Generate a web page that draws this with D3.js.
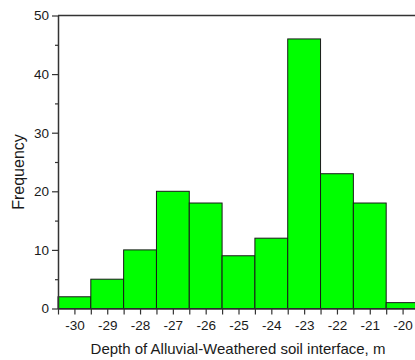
<!DOCTYPE html>
<html>
<head>
<meta charset="utf-8">
<script src="https://cdn.jsdelivr.net/npm/d3@7"></script>
<style>
  html, body { margin: 0; padding: 0; background: #fff; overflow: hidden; }
  svg { display: block; font-family: "Liberation Sans", Arial, sans-serif; }
</style>
</head>
<body>
<div id="chart"></div>
<script>
const binCenters = [-30, -29, -28, -27, -26, -25, -24, -23, -22, -21, -20];
const frequencies = [2, 5, 10, 20, 18, 9, 12, 46, 23, 18, 1];
const yTicks = [0, 10, 20, 30, 40, 50];
const yMinorTicks = [5, 15, 25, 35, 45];
const xTicks = [-30, -29, -28, -27, -26, -25, -24, -23, -22, -21, -20];
const xMinorTicks = [-30.5, -29.5, -28.5, -27.5, -26.5, -25.5, -24.5, -23.5, -22.5, -21.5, -20.5, -19.5];

const width = 415;
const height = 360;
const binWidth = 1;

const x = d3.scaleLinear()
  .domain([-30.5, -19.5])
  .range([58, 419]);

const y = d3.scaleLinear()
  .domain([0, 50])
  .range([308.5, 15.5]);

const svg = d3.select('#chart').append('svg')
  .attr('width', width)
  .attr('height', height);

// bars
svg.append('g')
  .selectAll('rect')
  .data(binCenters.map((c, i) => ({ c, f: frequencies[i] })))
  .join('rect')
    .attr('x', d => x(d.c - binWidth / 2))
    .attr('y', d => y(d.f))
    .attr('width', d => x(d.c + binWidth / 2) - x(d.c - binWidth / 2))
    .attr('height', d => y(0) - y(d.f))
    .attr('fill', '#00ff00')
    .attr('stroke', '#1a1a1a')
    .attr('stroke-width', 1);

// top frame line
svg.append('line')
  .attr('x1', x(-30.5)).attr('x2', x(-19.5))
  .attr('y1', y(50)).attr('y2', y(50))
  .attr('stroke', '#333').attr('stroke-width', 1.5);

// plain hyphen for negatives, like the original
const fmt = d => String(d);

// y axis
svg.append('g')
  .attr('transform', `translate(${x(-30.5)},0)`)
  .call(d3.axisLeft(y).tickValues(yTicks).tickFormat(fmt).tickSize(6).tickPadding(3).tickSizeOuter(0));
svg.append('g')
  .attr('transform', `translate(${x(-30.5)},0)`)
  .call(d3.axisLeft(y).tickValues(yMinorTicks).tickSize(3).tickFormat('').tickSizeOuter(0))
  .call(g => g.select('.domain').remove());

// x axis
svg.append('g')
  .attr('transform', `translate(0,${y(0)})`)
  .call(d3.axisBottom(x).tickValues(xTicks).tickFormat(fmt).tickSize(6).tickPadding(6).tickSizeOuter(0));
svg.append('g')
  .attr('transform', `translate(0,${y(0)})`)
  .call(d3.axisBottom(x).tickValues(xMinorTicks).tickSize(6).tickFormat('').tickSizeOuter(0))
  .call(g => g.select('.domain').remove());

svg.selectAll('.domain').attr('stroke', '#333').attr('stroke-width', 1.5);
svg.selectAll('.tick line').attr('stroke', '#333').attr('stroke-width', 1.2);
svg.selectAll('.tick text')
  .attr('font-size', 13.5)
  .attr('font-family', '"Liberation Sans", Arial, sans-serif')
  .attr('fill', '#1a1a1a');

// axis titles
svg.append('text')
  .attr('transform', 'translate(24,172) rotate(-90)')
  .attr('text-anchor', 'middle')
  .attr('font-size', 16)
  .attr('fill', '#1a1a1a')
  .text('Frequency');

svg.append('text')
  .attr('x', 238)
  .attr('y', 354)
  .attr('text-anchor', 'middle')
  .attr('font-size', 15)
  .attr('fill', '#1a1a1a')
  .text('Depth of Alluvial-Weathered soil interface, m');
</script>
</body>
</html>
